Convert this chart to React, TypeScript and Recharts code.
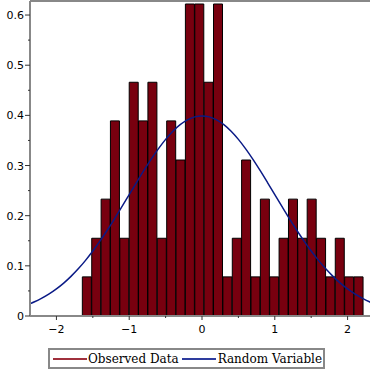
import { ComposedChart, Bar, Line, XAxis, YAxis, ReferenceLine } from 'recharts';

// histogram bins (centres) and observed densities
const binCenters = [
    -1.580, -1.451, -1.322, -1.194, -1.065, -0.936, -0.808, -0.679, -0.550, -0.421,
    -0.293, -0.164, -0.035, 0.093, 0.222, 0.351, 0.480, 0.608, 0.737, 0.866,
    0.994, 1.123, 1.252, 1.380, 1.509, 1.638, 1.767, 1.895, 2.024, 2.153,
];
const observed = [
    0.078, 0.155, 0.233, 0.389, 0.155, 0.466, 0.389, 0.466, 0.155, 0.389,
    0.311, 0.622, 0.622, 0.466, 0.622, 0.078, 0.155, 0.311, 0.078, 0.233,
    0.078, 0.155, 0.233, 0.155, 0.233, 0.155, 0.078, 0.155, 0.078, 0.078,
];

// random variable density curve
const curveX = [
    -2.4, -2.3, -2.2, -2.1, -2.0, -1.9, -1.8, -1.7, -1.6, -1.5, -1.4, -1.3, -1.2, -1.1, -1.0,
    -0.9, -0.8, -0.7, -0.6, -0.5, -0.4, -0.3, -0.2, -0.1, 0.0, 0.1, 0.2, 0.3, 0.4, 0.5,
    0.6, 0.7, 0.8, 0.9, 1.0, 1.1, 1.2, 1.3, 1.4, 1.5, 1.6, 1.7, 1.8, 1.9, 2.0, 2.1, 2.2, 2.3, 2.4,
];
const curveY = [
    0.0224, 0.0283, 0.0355, 0.0440, 0.0540, 0.0656, 0.0790, 0.0940, 0.1109, 0.1295, 0.1497, 0.1714, 0.1942, 0.2179, 0.2420,
    0.2661, 0.2897, 0.3123, 0.3332, 0.3521, 0.3683, 0.3814, 0.3910, 0.3970, 0.3989, 0.3970, 0.3910, 0.3814, 0.3683, 0.3521,
    0.3332, 0.3123, 0.2897, 0.2661, 0.2420, 0.2179, 0.1942, 0.1714, 0.1497, 0.1295, 0.1109, 0.0940, 0.0790, 0.0656, 0.0540, 0.0440, 0.0355, 0.0283, 0.0224,
];

const xTicks = [-2, -1.5, -1, -0.5, 0, 0.5, 1, 1.5, 2];
const yTicks = [0, 0.05, 0.1, 0.15, 0.2, 0.25, 0.3, 0.35, 0.4, 0.45, 0.5, 0.55, 0.6];
const xDomain: [number, number] = [-2.363, 2.308];
const yMax = 0.628;

const histData = binCenters.map((x, i) => ({ x, density: observed[i] }));
const curveData = curveX.map((x, i) => ({ x, pdf: curveY[i] }));

const axisColor = '#888888';
const tickFont = '"DejaVu Sans", sans-serif';

const XTick = (props: any) => {
    const { x, y, payload } = props;
    const v = payload.value;
    const major = Number.isInteger(v);
    return (
        <g>
            <line x1={x} y1={y} x2={x} y2={y + (major ? 4 : 2)} stroke="#333" />
            {major && (
                <text x={x} y={y + 17} textAnchor="middle" fontSize={11} fontFamily={tickFont} fill="#000">
                    {v < 0 ? `\u2212${-v}` : `${v}`}
                </text>
            )}
        </g>
    );
};

const YTick = (props: any) => {
    const { x, y, payload } = props;
    const v = payload.value;
    const major = Math.abs(v * 10 - Math.round(v * 10)) < 1e-6;
    return (
        <g>
            <line x1={x - (major ? 5 : 2)} y1={y} x2={x} y2={y} stroke="#333" />
            {major && (
                <text x={x - 6} y={y + 4} textAnchor="end" fontSize={11} fontFamily={tickFont} fill="#000">
                    {v === 0 ? '0' : v.toFixed(1)}
                </text>
            )}
        </g>
    );
};

const LegendBox = () => (
    <div
        style={{
            position: 'absolute',
            left: 48,
            top: 348,
            width: 277,
            height: 21,
            border: `2px solid ${axisColor}`,
            boxSizing: 'border-box',
            display: 'flex',
            alignItems: 'center',
            fontFamily: '"DejaVu Serif", serif',
            fontSize: 12,
            color: '#000',
            whiteSpace: 'nowrap',
        }}
    >
        <span style={{ display: 'inline-block', width: 34, height: 2, background: '#a0303c', marginLeft: 3, marginRight: 1 }} />
        <span>Observed Data</span>
        <span style={{ display: 'inline-block', width: 34, height: 2, background: '#2e3c9e', marginLeft: 3, marginRight: 2 }} />
        <span>Random Variable</span>
    </div>
);

export default function App() {
    return (
        <div style={{ position: 'relative', width: 370, height: 370 }}>
            <style>{'body { margin: 0; }'}</style>
            <ComposedChart
                width={370}
                height={370}
                data={histData}
                margin={{ top: 1, right: 0, left: 0, bottom: 24 }}
                barCategoryGap={0}
                barGap={0}
            >
                <XAxis
                    dataKey="x"
                    type="number"
                    domain={xDomain}
                    allowDataOverflow
                    ticks={xTicks}
                    interval={0}
                    tick={<XTick />}
                    tickLine={false}
                    tickSize={0}
                    tickMargin={0}
                    height={30}
                    axisLine={{ stroke: axisColor, strokeWidth: 2 }}
                />
                <XAxis xAxisId="pdf" dataKey="x" type="number" domain={xDomain} allowDataOverflow hide />
                <YAxis
                    type="number"
                    domain={[0, yMax]}
                    allowDataOverflow
                    ticks={yTicks}
                    interval={0}
                    tick={<YTick />}
                    tickLine={false}
                    tickSize={0}
                    tickMargin={0}
                    width={30}
                    axisLine={{ stroke: axisColor, strokeWidth: 2 }}
                />
                <ReferenceLine y={yMax} stroke={axisColor} strokeWidth={2} />
                <Bar
                    dataKey="density"
                    name="Observed Data"
                    fill="#78000f"
                    stroke="#000"
                    strokeWidth={1}
                    isAnimationActive={false}
                />
                <Line
                    xAxisId="pdf"
                    data={curveData}
                    dataKey="pdf"
                    name="Random Variable"
                    type="monotone"
                    stroke="#0a1a86"
                    strokeWidth={1.5}
                    dot={false}
                    activeDot={false}
                    isAnimationActive={false}
                />
            </ComposedChart>
            <LegendBox />
        </div>
    );
}
